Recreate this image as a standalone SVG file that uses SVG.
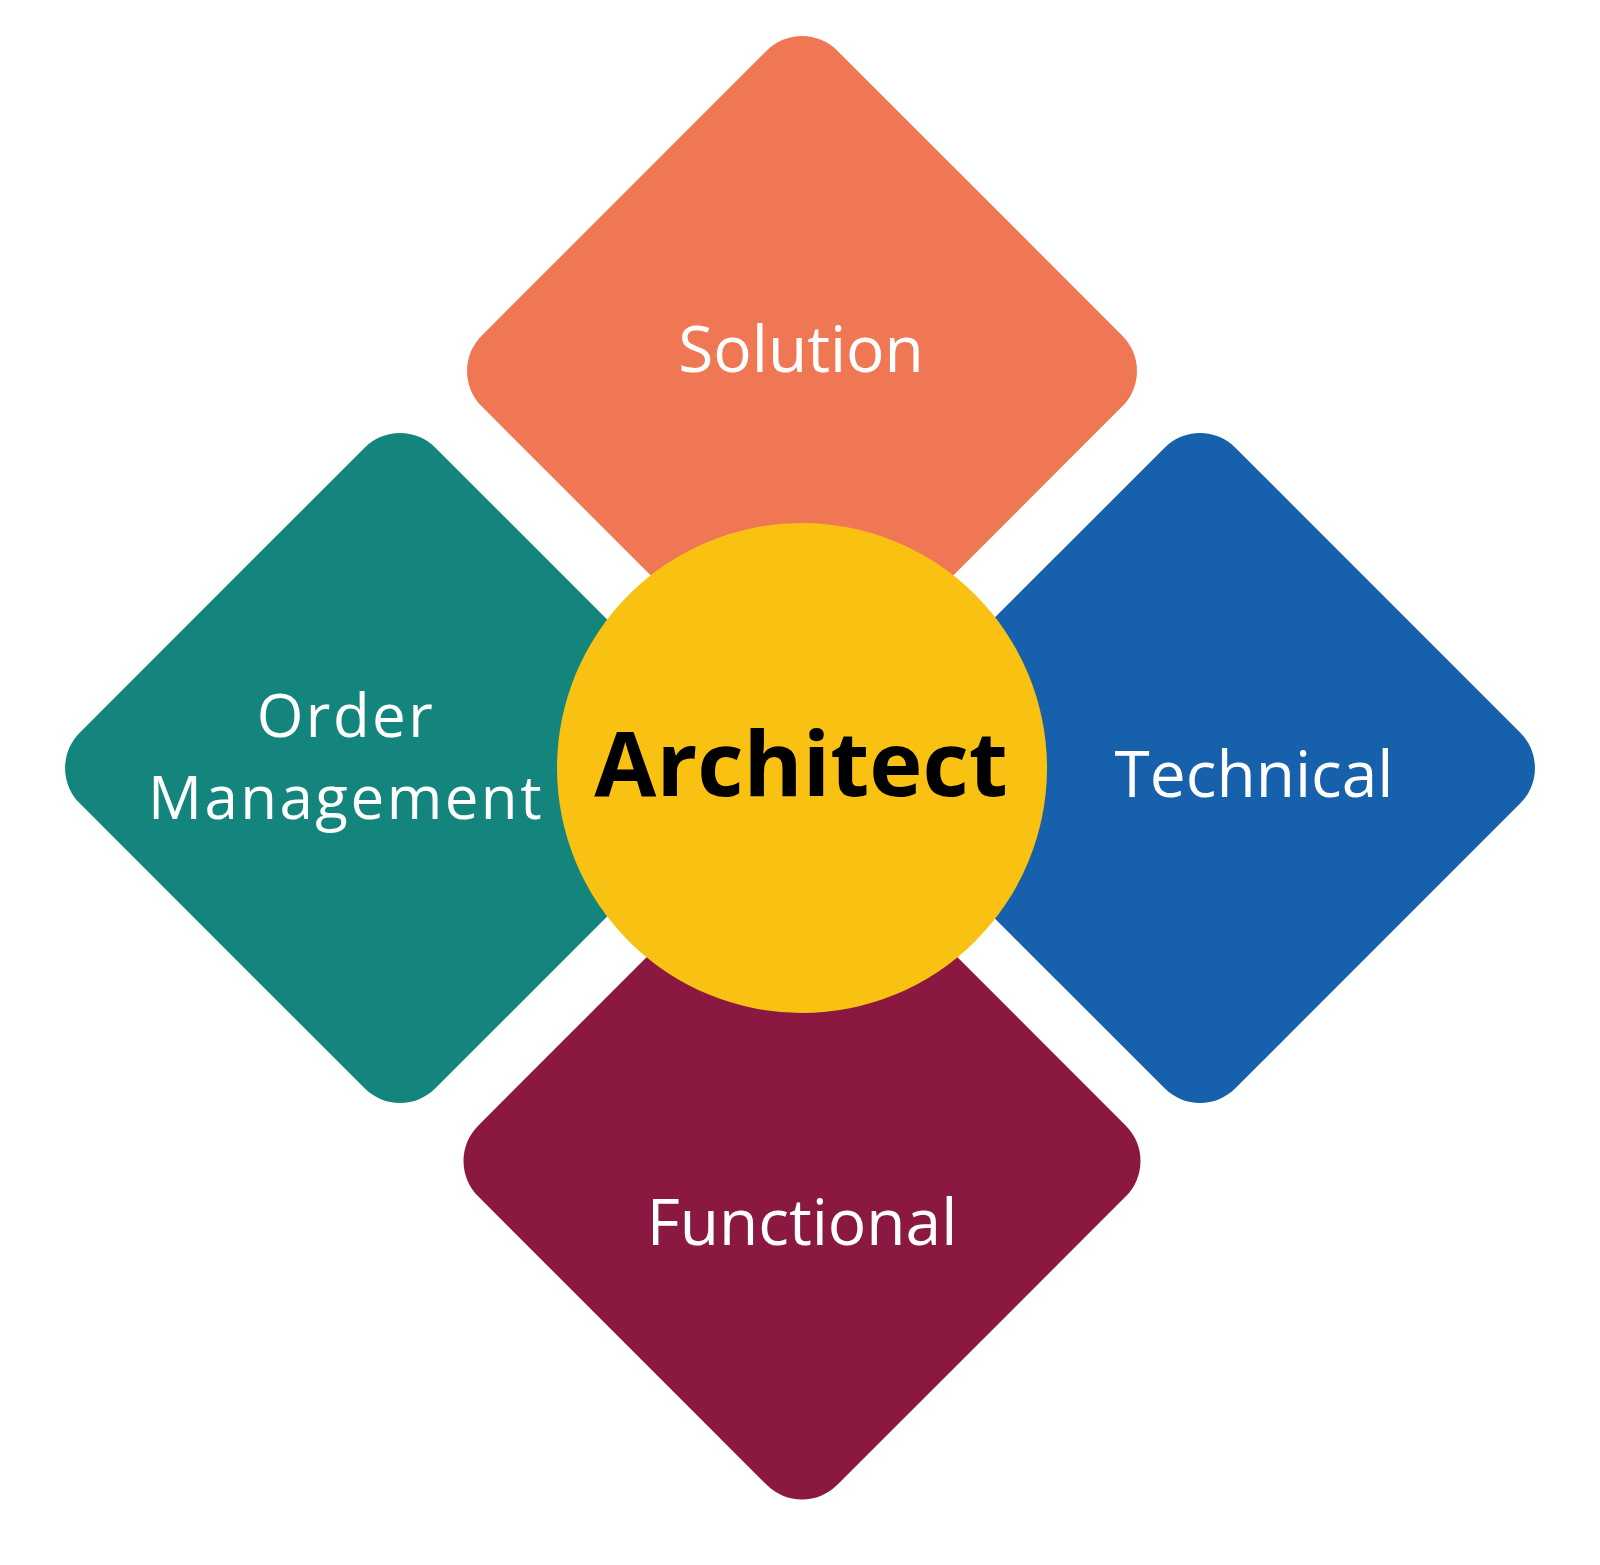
<svg xmlns="http://www.w3.org/2000/svg" width="1600" height="1565" viewBox="0 0 1600 1565">
  <style>
    .lbl { font-family: "Open Sans", "Noto Sans", "DejaVu Sans", sans-serif; font-size: 64px; fill: #ffffff; text-anchor: middle; }
    .lbl2 { font-family: "Open Sans", "Noto Sans", "DejaVu Sans", sans-serif; font-size: 60px; letter-spacing: 2.5px; fill: #ffffff; text-anchor: middle; }
    .ctr { font-family: "Open Sans", "Noto Sans", "DejaVu Sans", sans-serif; font-size: 90px; font-weight: 700; fill: #000000; text-anchor: middle; }
  </style>
  <rect width="1600" height="1565" fill="#ffffff"/>
  <g id="solution">
    <rect x="550.5" y="119.5" width="503" height="503" rx="50" ry="50" fill="#F07753" transform="rotate(45 802 371)"/>
    <text class="lbl" x="801" y="372">Solution</text>
  </g>
  <g id="order-management">
    <rect x="148.5" y="516.5" width="503" height="503" rx="50" ry="50" fill="#14857D" transform="rotate(45 400 768)"/>
    <text class="lbl2" x="346" y="737">Order</text>
    <text class="lbl2" x="346" y="819">Management</text>
  </g>
  <g id="technical">
    <rect x="948.5" y="516.5" width="503" height="503" rx="50" ry="50" fill="#1660AC" transform="rotate(45 1200 768)"/>
    <text class="lbl" x="1254" y="797">Technical</text>
  </g>
  <g id="functional">
    <rect x="548" y="907" width="508" height="508" rx="50" ry="50" fill="#8B1840" transform="rotate(45 802 1161)"/>
    <text class="lbl" x="802" y="1245">Functional</text>
  </g>
  <g id="architect">
    <circle cx="802" cy="768" r="245" fill="#F9C213"/>
    <text class="ctr" x="801" y="796">Architect</text>
  </g>
</svg>
